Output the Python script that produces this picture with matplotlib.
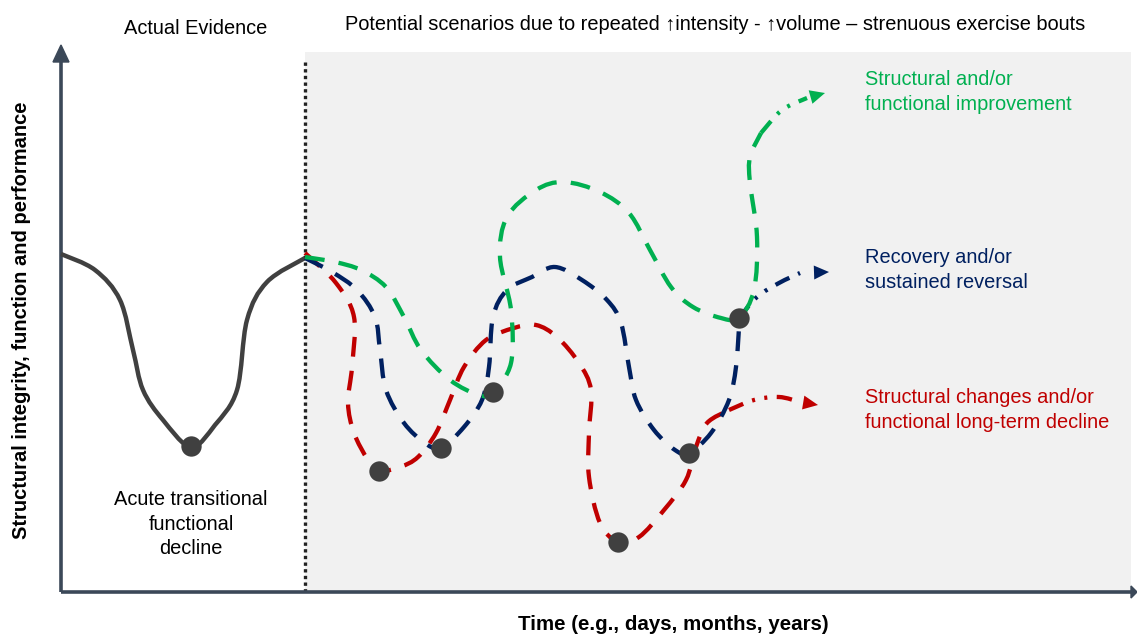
import numpy as np
import matplotlib.pyplot as plt
from matplotlib.patches import Rectangle, FancyArrow, PathPatch
from matplotlib.path import Path

plt.rcParams['font.family'] = ['Liberation Sans', 'DejaVu Sans']

# curves, in picture pixels (x right, y down)
acute_x = [61, 95, 120, 133, 143, 163, 191, 215, 237, 247, 267, 305]
acute_y = [254, 270, 300, 350, 390, 420, 447, 425, 390, 320, 282, 258]

green_x = [305, 335, 361, 386, 404, 421, 450, 479, 493, 511, 511, 500, 507, 536, 564,
           600, 629, 650, 671, 693, 721, 739, 754, 757, 750, 750, 761]
green_y = [257, 262, 270, 287, 317, 350, 380, 395, 392, 363, 310, 257, 217, 190, 182,
           192, 213, 250, 287, 307, 318, 318, 290, 237, 183, 157, 133]
green_tail_x = [761, 782, 807, 825]
green_tail_y = [133, 110, 98, 93]

blue_x = [305, 332, 357, 375, 380, 386, 404, 425, 441, 464, 482, 489, 493, 507, 532,
          555, 582, 607, 621, 629, 636, 654, 675, 689, 711, 729, 736, 739, 739]
blue_y = [258, 272, 290, 317, 350, 390, 423, 443, 448, 427, 400, 367, 317, 290, 277,
          267, 280, 300, 323, 367, 400, 430, 450, 453, 433, 400, 367, 327, 318]
blue_tail_x = [739, 757, 779, 800, 829]
blue_tail_y = [318, 297, 283, 273, 272]

red_x = [305, 336, 354, 352, 348, 354, 368, 379, 400, 418, 436, 450, 464, 486, 514,
         536, 557, 579, 591, 589, 589, 600, 618, 639, 664, 686, 696, 707, 729]
red_y = [253, 283, 317, 367, 403, 433, 460, 471, 467, 457, 433, 400, 367, 340, 328,
         325, 337, 363, 390, 433, 477, 523, 542, 537, 510, 480, 447, 423, 410]
red_tail_x = [729, 754, 779, 800, 818]
red_tail_y = [410, 400, 397, 402, 405]

dots_x = [191, 379, 441, 493, 618, 689, 739]
dots_y = [446, 471, 448, 392, 542, 453, 318]

GREEN = '#00b050'
BLUE = '#002060'
RED = '#c00000'
DARK = '#404040'
AXIS = '#3b4858'


def smooth_path(xs, ys):
    # Catmull-Rom through the read points, handed to matplotlib as cubic Beziers
    p = np.column_stack([xs, ys]).astype(float)
    q = np.vstack([p[0], p, p[-1]])
    verts = [p[0]]
    codes = [Path.MOVETO]
    for i in range(len(p) - 1):
        a, b, c, d = q[i], q[i + 1], q[i + 2], q[i + 3]
        verts += [b + (c - a) / 6, c - (d - b) / 6, c]
        codes += [Path.CURVE4] * 3
    return Path(verts, codes)


fig = plt.figure(figsize=(11.37, 6.36), dpi=100)
ax = fig.add_axes([0, 0, 1, 1])
ax.set_xlim(0, 1137)
ax.set_ylim(636, 0)
ax.axis('off')

# shaded scenario region + separator
ax.add_patch(Rectangle((305, 52), 826, 540, facecolor='#f1f1f1', edgecolor='none', zorder=0))
ax.plot([305, 305], [62, 592], color='#222222', lw=2.4, linestyle=(0, (1, 1)),
        dash_capstyle='butt', zorder=1)

# axes arrows
ax.plot([61, 1133], [592, 592], color=AXIS, lw=2.6, solid_capstyle='butt', zorder=2)
ax.plot([61, 61], [592, 58], color=AXIS, lw=2.6, solid_capstyle='butt', zorder=2)
ax.fill([53, 61, 69], [62, 45, 62], color=AXIS, zorder=2)
ax.fill([1131, 1137, 1131], [586, 592, 598], color=AXIS, zorder=2)

ax.add_patch(PathPatch(smooth_path(acute_x, acute_y), facecolor='none', edgecolor=DARK,
                       lw=3.2, zorder=3))

dash = (0, (4.6, 3.3))
tail = (0, (3.6, 2.2, 0.7, 2.2, 0.7, 2.2))
for xs, ys, tx, ty, c in [(red_x, red_y, red_tail_x, red_tail_y, RED),
                          (blue_x, blue_y, blue_tail_x, blue_tail_y, BLUE),
                          (green_x, green_y, green_tail_x, green_tail_y, GREEN)]:
    ax.add_patch(PathPatch(smooth_path(xs, ys), facecolor='none', edgecolor=c, lw=3.1,
                           linestyle=dash, capstyle='butt', zorder=4))
    ax.add_patch(PathPatch(smooth_path(tx[:-1], ty[:-1]), facecolor='none', edgecolor=c,
                           lw=3.1, linestyle=tail, capstyle='butt', zorder=4))
    dx = tx[-1] - tx[-2]
    dy = ty[-1] - ty[-2]
    n = np.hypot(dx, dy)
    ax.add_patch(FancyArrow(tx[-1] - 15 * dx / n, ty[-1] - 15 * dy / n, 15 * dx / n, 15 * dy / n,
                            width=0, head_width=14, head_length=15, length_includes_head=True,
                            color=c, lw=0, zorder=4))

ax.scatter(dots_x, dots_y, s=215, color=DARK, zorder=5, linewidths=0)

# texts
ax.text(196, 29, 'Actual Evidence', ha='center', va='center', fontsize=14.4)
ax.text(715, 25, 'Potential scenarios due to repeated \u2191intensity - \u2191volume \u2013 strenuous exercise bouts',
        ha='center', va='center', fontsize=14.4)
ax.text(22, 320, 'Structural integrity, function and performance', rotation=90,
        ha='center', va='center', fontsize=14.5, fontweight='bold')
ax.text(673, 624, 'Time (e.g., days, months, years)', ha='center', va='center',
        fontsize=14.8, fontweight='bold')
ax.text(191, 524, 'Acute transitional\nfunctional\ndecline', ha='center', va='center',
        fontsize=14.4, linespacing=1.38)
ax.text(865, 92, 'Structural and/or\nfunctional improvement', ha='left', va='center',
        fontsize=14.4, color=GREEN, linespacing=1.38)
ax.text(865, 270, 'Recovery and/or\nsustained reversal', ha='left', va='center',
        fontsize=14.4, color=BLUE, linespacing=1.38)
ax.text(865, 410, 'Structural changes and/or\nfunctional long-term decline', ha='left', va='center',
        fontsize=14.4, color=RED, linespacing=1.38)

fig.savefig('out.png', dpi=100)
